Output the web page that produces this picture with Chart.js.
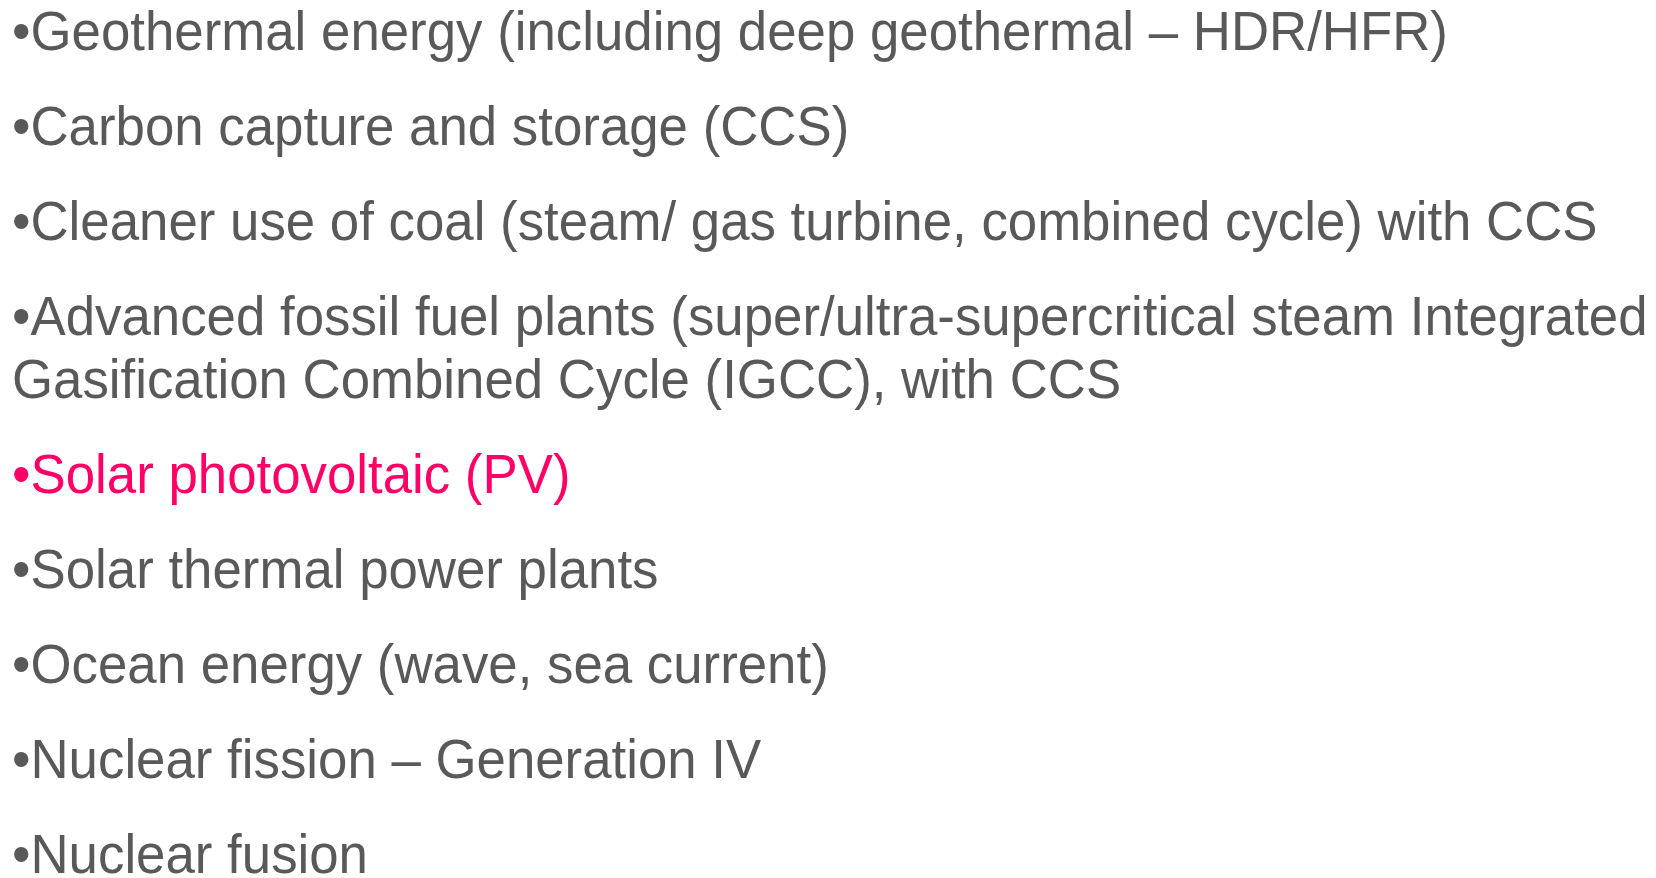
<!DOCTYPE html>
<html>
<head>
<meta charset="utf-8">
<script src="https://cdn.jsdelivr.net/npm/chart.js@4.4.1/dist/chart.umd.min.js"></script>
<style>
  html, body { margin: 0; padding: 0; background: #ffffff; }
  #wrap { width: 1656px; height: 878px; position: relative; }
</style>
</head>
<body>
<div id="wrap"><canvas id="slide"></canvas></div>
<script>
// bullet items (each item = its lines as printed)
const items = [
    ["Geothermal energy (including deep geothermal \u2013 HDR/HFR)"],
    ["Carbon capture and storage (CCS)"],
    ["Cleaner use of coal (steam/ gas turbine, combined cycle) with CCS"],
    ["Advanced fossil fuel plants (super/ultra-supercritical steam Integrated",
     "Gasification Combined Cycle (IGCC), with CCS"],
    ["Solar photovoltaic (PV)"],
    ["Solar thermal power plants"],
    ["Ocean energy (wave, sea current)"],
    ["Nuclear fission \u2013 Generation IV"],
    ["Nuclear fusion"]
];
const highlighted = [4]; // Solar PV is picked out in red

const fontSize = 55;
const squeeze = 0.96; // slide font runs a bit narrower
const lineGap = 63;   // within one item
const itemGap = 32;   // extra between items

const bulletList = {
    id: "bulletList",
    afterDraw(chart) {
        const ctx = chart.ctx;
        ctx.save();
        ctx.translate(12, 0);
        ctx.scale(squeeze, 1);
        ctx.font = fontSize + "px 'Liberation Sans', Arial, sans-serif";
        ctx.textBaseline = "alphabetic";
        ctx.textAlign = "left";
        let y = 50;
        for (let i = 0; i < items.length; i++) {
            ctx.fillStyle = highlighted.includes(i) ? "#ff0066" : "#595959";
            const lines = items[i];
            for (let j = 0; j < lines.length; j++) {
                const txt = j === 0 ? "\u2022" + lines[j] : lines[j];
                ctx.fillText(txt, 0, y);
                y += lineGap;
            }
            y += itemGap;
        }
        ctx.restore();
    }
};

new Chart(document.getElementById("slide"), {
    type: "bar",
    data: { labels: [], datasets: [] },
    options: {
        responsive: true,
        maintainAspectRatio: false,
        animation: false,
        events: [],
        layout: { padding: 0 },
        plugins: { legend: { display: false }, tooltip: { enabled: false } },
        scales: { x: { display: false }, y: { display: false } }
    },
    plugins: [bulletList]
});
</script>
</body>
</html>
